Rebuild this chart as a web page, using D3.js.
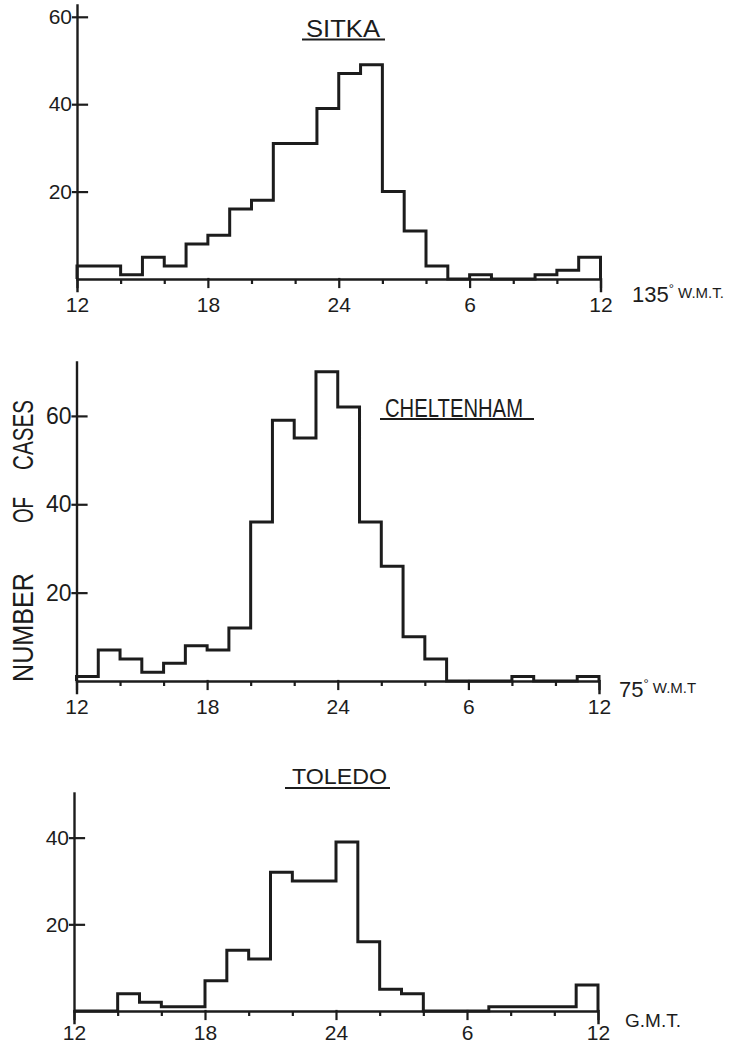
<!DOCTYPE html>
<html>
<head>
<meta charset="utf-8">
<script src="https://cdn.jsdelivr.net/npm/d3@7"></script>
<style>
  body { margin: 0; background: #fff; }
  text { font-family: "Liberation Sans", Arial, sans-serif; fill: #1c1c1c; }
</style>
</head>
<body>
<div id="chart"></div>
<script>
// data (cases per hour, 12 -> 12)
const stations = ["SITKA", "CHELTENHAM", "TOLEDO"];
const sitka      = [3,3,1,5,3,8,10,16,18,31,31,39,47,49,20,11,3,0,1,0,0,1,2,5];
const cheltenham = [1,7,5,2,4,8,7,12,36,59,55,70,62,36,26,10,5,0,0,0,1,0,0,1];
const toledo     = [0,0,4,2,1,1,7,14,12,32,30,30,39,16,5,4,0,0,0,1,1,1,1,6];
const hourLabels = ["12", "18", "24", "6", "12"];
const majorTicks = [0, 6, 12, 18, 24];
const minorTicks = [2, 4, 8, 10, 14, 16, 20, 22];
const yTicks = [[20, 40, 60], [20, 40, 60], [20, 40]];
const yMax = [62.7, 72.2, 50.3];
const units = [["135", "W.M.T."], ["75", "W.M.T"], ["", "G.M.T."]];
const yLabelWords = ["NUMBER", "OF", "CASES"];

const series = [sitka, cheltenham, toledo];

// where each panel sits on the page
const layout = [
  {left: 77, right: 600.5, zeroY: 279, topY: 5, labGap: 18, ySize: 21,
   title: {cx: 343, y: 36.5, len: 74, size: 23, uy: 39.5, ux0: 302, ux1: 385},
   unit: {x: 632, y: 302, size: 22}},
  {left: 76.5, right: 599, zeroY: 681, topY: 362, labGap: 18, ySize: 23,
   title: {cx: 454, y: 416.5, len: 138, size: 25, uy: 419, ux0: 380, ux1: 534},
   unit: {x: 619, y: 697, size: 22}},
  {left: 74, right: 598, zeroY: 1011, topY: 793, labGap: 14, ySize: 21,
   title: {cx: 339.5, y: 783.5, len: 95, size: 22, uy: 788, ux0: 285, ux1: 390},
   unit: {x: 625, y: 1027, size: 19}}
];

const width = 736, height = 1046;
const ink = "#1c1c1c";

const svg = d3.select("#chart")
  .append("svg")
    .attr("width", width)
    .attr("height", height)
    .style("background", "#fff");

series.forEach(function(values, p) {
  const L = layout[p];
  const g = svg.append("g");

  const x = d3.scaleLinear()
    .domain([0, 24])
    .range([L.left, L.right]);

  const y = d3.scaleLinear()
    .domain([0, yMax[p]])
    .range([L.zeroY, L.topY]);

  // minor ticks every 2 hours
  g.append("g")
    .attr("transform", `translate(0,${L.zeroY})`)
    .call(d3.axisBottom(x).tickValues(minorTicks).tickSize(5).tickSizeOuter(0).tickFormat(""))
    .call(a => a.select(".domain").remove());

  // x axis with the labelled hours
  const xa = g.append("g")
    .attr("transform", `translate(0,${L.zeroY})`)
    .call(d3.axisBottom(x)
      .tickValues(majorTicks)
      .tickSize(8)
      .tickSizeOuter(12)
      .tickPadding(L.labGap - 8)
      .tickFormat((d, i) => hourLabels[i]));

  // y axis, ticks on the inside
  const ya = g.append("g")
    .attr("transform", `translate(${L.left},0)`)
    .call(d3.axisLeft(y)
      .tickValues(yTicks[p])
      .tickSize(-10)
      .tickSizeOuter(0)
      .tickPadding(5));

  [xa, ya].forEach(function(a) {
    a.attr("font-family", null).attr("font-size", null);
    a.selectAll("path, line")
      .attr("stroke", ink)
      .attr("stroke-width", 2.4)
      .attr("stroke-linecap", "square");
    a.selectAll("text")
      .attr("fill", ink)
      .style("font-size", "21px");
  });
  ya.selectAll("text").style("font-size", L.ySize + "px");
  g.selectAll("line").attr("stroke", ink).attr("stroke-width", 2.2);
  ya.selectAll(".tick line").attr("x1", -4);

  // histogram outline
  const pts = [[0, 0]]
    .concat(values.map((v, i) => [i, v]))
    .concat([[24, values[values.length - 1]], [24, 0]]);

  const lineGenerator = d3.line()
    .x(d => x(d[0]))
    .y(d => y(d[1]))
    .curve(d3.curveStepAfter);

  g.append("path")
    .datum(pts)
    .attr("d", lineGenerator)
    .attr("fill", "none")
    .attr("stroke", ink)
    .attr("stroke-width", 3)
    .attr("stroke-linejoin", "miter");

  // station title, underlined
  const T = L.title;
  g.append("text")
    .attr("x", T.cx)
    .attr("y", T.y)
    .attr("text-anchor", "middle")
    .attr("textLength", T.len)
    .attr("lengthAdjust", "spacingAndGlyphs")
    .style("font-size", T.size + "px")
    .text(stations[p]);

  g.append("line")
    .attr("x1", T.ux0).attr("x2", T.ux1)
    .attr("y1", T.uy).attr("y2", T.uy)
    .attr("stroke", ink)
    .attr("stroke-width", 2.2);

  // time zone label
  const U = L.unit;
  const ut = g.append("text")
    .attr("x", U.x)
    .attr("y", U.y);
  if (units[p][0] !== "") {
    ut.append("tspan").style("font-size", U.size + "px").text(units[p][0]);
    ut.append("tspan").style("font-size", "13px").attr("dy", -9).text("°");
    ut.append("tspan").style("font-size", "15px").attr("dy", 5).text(" " + units[p][1]);
  } else {
    ut.append("tspan").style("font-size", U.size + "px").text(units[p][1]);
  }
});

// shared y label
const ylab = svg.append("g")
  .attr("transform", "translate(22,537) rotate(-90)");

const wordPos = [[-145, 109], [14, 26], [67, 70]];
ylab.selectAll("text")
  .data(yLabelWords)
  .join("text")
    .attr("x", (d, i) => wordPos[i][0])
    .attr("y", 0)
    .attr("dy", "0.36em")
    .attr("textLength", (d, i) => wordPos[i][1])
    .attr("lengthAdjust", "spacingAndGlyphs")
    .style("font-size", "30px")
    .text(d => d);
</script>
</body>
</html>
